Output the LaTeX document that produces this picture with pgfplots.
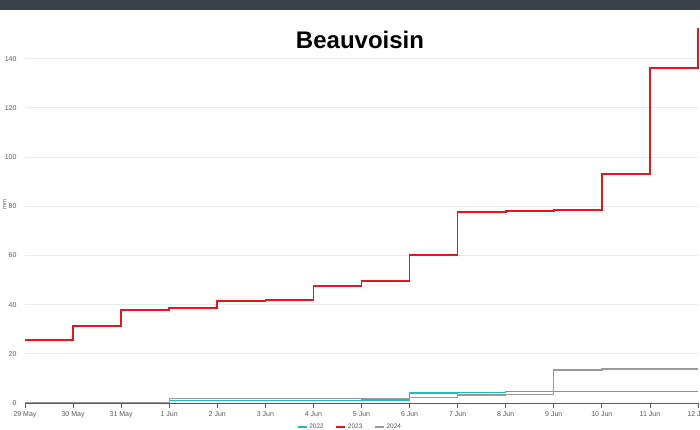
\documentclass[border=0pt]{standalone}
\usepackage{fontspec}
\setmainfont{Liberation Sans}
\usepackage{pgfplots}
\pgfplotsset{compat=1.18}
\definecolor{cteal}{HTML}{22BDBA}
\definecolor{cred}{HTML}{E8161C}
\definecolor{cgrey}{HTML}{9A9A9A}
\definecolor{band}{HTML}{3C4048}
\definecolor{tickc}{HTML}{5A5A5A}
\begin{document}
\begin{tikzpicture}[x=1pt,y=1pt]
\path[use as bounding box] (0,0) rectangle (700,430);
\fill[band] (0,420) rectangle (700,430);
\node[font=\fontsize{24}{28}\selectfont\bfseries] at (360,390) {Beauvoisin};
\begin{axis}[
  at={(25pt,27pt)}, anchor=south west,
  scale only axis, width=673pt, height=381.3pt,
  xmin=0, xmax=14, ymin=0, ymax=155,
  axis x line*=bottom, axis y line*=left,
  y axis line style={draw=none},
  x axis line style={tickc, line width=0.9pt},
  xtick={0,...,14},
  xticklabels={29 May,30 May,31 May,1 Jun,2 Jun,3 Jun,4 Jun,5 Jun,6 Jun,7 Jun,8 Jun,9 Jun,10 Jun,11 Jun,12 Jun},
  ytick={0,20,...,140},
  ymajorgrids, grid style={draw=black!8, line width=0.8pt},
  xtick style={tickc, line width=0.8pt},
  ytick style={draw=none},
  major tick length=5pt,
  tick align=outside,
  ticklabel style={font=\fontsize{7}{8}\selectfont, text=tickc},
  /pgf/number format/assume math mode=true,
  ylabel={mm},
  ylabel style={at={(axis description cs:-0.03,0.52)}, anchor=center, font=\fontsize{6}{7}\selectfont, text=tickc},
  legend columns=3,
  legend style={at={(axis description cs:0.483,-0.063)}, anchor=center, draw=none, fill=none,
    font=\fontsize{6.5}{7}\selectfont, text=tickc, inner sep=1pt,
    /tikz/every even column/.append style={column sep=10pt}},
  legend image code/.code={\draw[#1, line width=1.2pt] (0pt,0pt) -- (9pt,0pt);},
  clip=false,
]
\addplot[const plot, cteal, line width=1.4pt] coordinates {
(0,0.1) (1,0.1) (2,0.1) (3,0.9) (4,0.9) (5,0.9) (6,0.9) (7,1.2) (8,4.0) (9,4.2) (10,4.6) (11,4.7) (12,4.7) (13,4.7) (14,4.7)};
\addlegendentry{2022}
\addplot[const plot, cred, line width=1.6pt] coordinates {
(0,25.5) (1,31.3) (2,37.8) (3,38.6) (4,41.5) (5,41.9) (6,47.6) (7,49.6) (8,60.2) (9,77.6) (10,78.0) (11,78.5) (12,93.1) (13,136.2) (14,152.4)};
\addlegendentry{2023}
\addplot[const plot, cgrey, line width=1.3pt] coordinates {
(0,0.2) (1,0.3) (2,0.3) (3,1.9) (4,1.9) (5,1.9) (6,1.9) (7,1.9) (8,2.2) (9,3.3) (10,3.4) (11,13.4) (12,13.8) (13,13.8) (14,13.8)};
\addlegendentry{2024}
\end{axis}
\end{tikzpicture}
\end{document}
